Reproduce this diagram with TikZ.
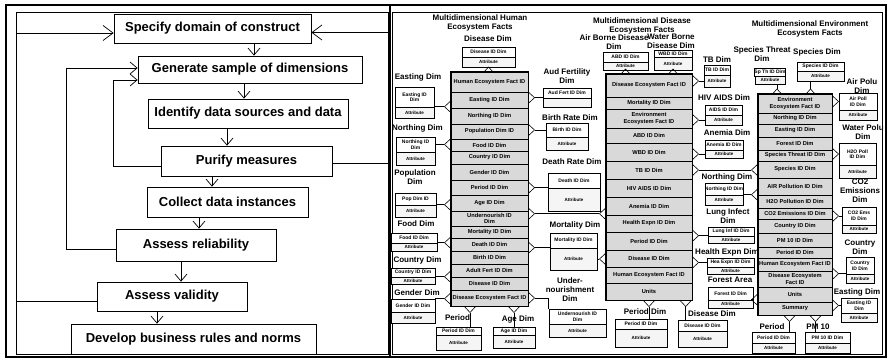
\documentclass[tikz,border=0pt]{standalone}
\usepackage{fontspec}
\setmainfont{Liberation Sans}
\usetikzlibrary{arrows.meta,positioning}

\tikzset{
  flowtip/.tip={Straight Barb[length=7pt,width=12pt]},
  backtip/.tip={Straight Barb[length=10pt,width=15pt]},
  crow/.tip={Straight Barb[reversed,length=6pt,width=11pt]},
  smallcrow/.tip={Straight Barb[reversed,length=4.5pt,width=8pt]},
}

% dimension table: name, left, top, right, divide, bottom, key text, attribute text
\newcommand{\dimtab}[8]{%
  \node[dimkey, minimum width={(#4-#2)*1pt}, minimum height={(#5-#3)*1pt}]
    (#1) at ({(#2+#4)/2},{(#3+#5)/2}) {#7};
  \node[dimattr, minimum width={(#4-#2)*1pt}, minimum height={(#6-#5)*1pt}]
    (#1-a) at ({(#2+#4)/2},{(#5+#6)/2}) {#8};
}

\begin{document}
\begin{tikzpicture}[x=1pt, y=-1pt,
  flowbox/.style={draw, line width=0.8pt, inner sep=0pt, font=\fontsize{13}{15}\selectfont\bfseries},
  flow/.style={line width=0.7pt, -flowtip},
  factrow/.style={draw, line width=0.5pt, fill=gray!30, inner sep=0pt, align=center, font=\fontsize{5.7}{6.1}\selectfont\bfseries},
  dimkey/.style={draw, line width=0.6pt, fill=white, inner sep=0pt, align=center, font=\fontsize{5}{5.6}\selectfont\bfseries},
  dimattr/.style={draw, line width=0.6pt, fill=gray!8, inner sep=0pt, font=\fontsize{4.5}{5}\selectfont\bfseries},
  dimtitle/.style={inner sep=0pt, align=center, font=\fontsize{8}{9}\selectfont\bfseries},
  link/.style={line width=0.6pt}]
\useasboundingbox (0,0) rectangle (889,360);

% frames
\draw[line width=2pt] (6,5) rectangle (886,357);
\draw[line width=0.6pt] (16,12) rectangle (388,354);
\draw[line width=0.6pt] (392,12) rectangle (882,354);
\draw[line width=2pt] (390,5) -- (390,357);

% scale development steps
\node[flowbox, minimum width=197pt, minimum height=29pt] (spec) at (212.5,28.5) {Specify domain of construct};
\node[flowbox, minimum width=224pt, minimum height=27pt] (gen) at (250,69.5) {Generate sample of dimensions};
\node[flowbox, minimum width=200pt, minimum height=29pt] (ident) at (248,113.5) {Identify data sources and data};
\node[flowbox, minimum width=171pt, minimum height=30pt] (purify) at (246.5,161) {Purify measures};
\node[flowbox, minimum width=161pt, minimum height=30pt] (collect) at (227.5,202) {Collect data instances};
\node[flowbox, minimum width=160pt, minimum height=32pt] (reliab) at (196,245) {Assess reliability};
\node[flowbox, minimum width=150pt, minimum height=29pt] (valid) at (172,296.5) {Assess validity};
\node[flowbox, minimum width=245pt, minimum height=30pt] (develop) at (193.5,339) {Develop business rules and norms};

\foreach \a/\b/\s in {spec/gen/4, gen/ident/-4, ident/purify/-19.5, purify/collect/-15.5,
                      collect/reliab/3, reliab/valid/9, valid/develop/-36.5} {
  \path ([xshift=\s pt]\b.north) coordinate (dn);
  \draw[flow] (dn |- \a.south) -- (dn);
}

% feedback loops
\coordinate (frameL) at (16,0);
\coordinate (frameR) at (388,0);
\coordinate (loopA) at (66,0);
\coordinate (loopB) at (113,0);
\coordinate (inL) at ([yshift=-4.5pt]spec.west);
\coordinate (inR) at ([yshift=-4pt]spec.east);
\coordinate (gin1) at ([yshift=1.5pt]gen.west);
\coordinate (gin2) at ([yshift=-10.5pt]gen.west);
\draw[line width=0.7pt, -backtip] ([yshift=-5pt]valid.west) -| (frameL |- inL) -- (inL);
\draw[line width=0.7pt, -backtip] ([yshift=-2pt]purify.east) -| (frameR |- inR) -- (inR);
\draw[flow] ([yshift=-4pt]reliab.west) -| (loopA |- gin1) -- (gin1);
\draw[flow] ([yshift=-5pt]purify.west) -| (loopB |- gin2) -- (gin2);

% fact tables
\foreach \t/\a/\b [count=\i] in {Human Ecosystem Fact ID/72/92, Easting ID Dim/92/108,
    Northing ID Dim/108/124, Population Dim ID/124/139, Food ID Dim/139/151,
    Country ID Dim/151/164, Gender ID Dim/164/180, Period ID Dim/180/195,
    Age ID Dim/195/211, Undernourish ID\\Dim/211/226, Mortality ID Dim/226/238,
    Death ID Dim/238/251, Birth ID Dim/251/264, Adult Fert ID Dim/264/277,
    Disease ID Dim/277/290, Disease Ecosystem Fact ID/290/306}
  \node[factrow, minimum width=77pt, minimum height={(\b-\a)*1pt}] (hf\i) at (489.5,{(\a+\b)/2}) {\t};
\draw[line width=0.9pt] (hf1.north west) rectangle (hf16.south east);

\foreach \t/\a/\b [count=\i] in {Disease Ecosystem Fact ID/74/97, Mortality ID Dim/97/109,
    Environment\\Ecosystem Fact ID/109/128, ABD ID Dim/128/143, WBD ID Dim/143/161,
    TB ID Dim/161/179, HIV AIDS ID Dim/179/197, Anemia ID Dim/197/215,
    Health Expn ID Dim/215/232, Period ID Dim/232/250, Disease ID Dim/250/267,
    Human Ecosystem Fact ID/267/283, Units/283/300}
  \node[factrow, minimum width=86pt, minimum height={(\b-\a)*1pt}] (df\i) at (649,{(\a+\b)/2}) {\t};
\draw[line width=0.9pt] (df1.north west) rectangle (df13.south east);

\foreach \t/\a/\b [count=\i] in {Environment\\Ecosystem Fact ID/94/113, Northing ID Dim/113/124,
    Easting ID Dim/124/137, Forest ID Dim/137/150, Species Threat ID Dim/150/161,
    Species ID Dim/161/178, AIR Pollution ID Dim/178/195, H2O Pollution ID Dim/195/208,
    CO2 Emissions ID Dim/208/219, Country ID Dim/219/233, PM 10 ID Dim/233/247,
    Period ID Dim/247/258, Human Ecosystem Fact ID/258/271, Disease Ecosystem\\Fact ID/271/287,
    Units/287/302, Summary/302/315}
  \node[factrow, minimum width=74pt, minimum height={(\b-\a)*1pt}] (ef\i) at (795,{(\a+\b)/2}) {\t};
\draw[line width=0.9pt] (ef1.north west) rectangle (ef16.south east);

% titles
\node[dimtitle] (ttl-h) at (480,22.5) {Multidimensional Human\\Ecosystem Facts};
\node[dimtitle] (ttl-d) at (642,25.5) {Multidimensional Disease\\Ecosystem Facts};
\node[dimtitle] (ttl-e) at (810,28.5) {Multidimensional Environment\\Ecosystem Facts};

\node[dimtitle] (l-hdis) at (488,39) {Disease Dim};
\node[dimtitle] (l-heast) at (418,77) {Easting Dim};
\node[dimtitle] (l-hnorth) at (417.5,128) {Northing Dim};
\node[dimtitle] (l-hpop) at (415,177.5) {Population\\Dim};
\node[dimtitle] (l-hfood) at (416,224) {Food Dim};
\node[dimtitle] (l-hcty) at (417.5,260) {Country Dim};
\node[dimtitle] (l-hgen) at (417,293) {Gender Dim};
\node[dimtitle] (l-hper) at (457.5,318) {Period};
\node[dimtitle] (l-hage) at (518,319) {Age Dim};
\node[dimtitle] (l-haud) at (567,76) {Aud Fertility\\Dim};
\node[dimtitle] (l-hbirth) at (570,118) {Birth Rate Dim};
\node[dimtitle] (l-hdeath) at (572,162) {Death Rate Dim};
\node[dimtitle] (l-hmort) at (575,225) {Mortality Dim};
\node[dimtitle] (l-hund) at (570,290) {Under-\\nourishment\\Dim};

\node[dimtitle] (l-dabd) at (614,42) {Air Borne Disease\\Dim};
\node[dimtitle] (l-dwbd) at (671,41) {Water Borne\\Disease Dim};
\node[dimtitle] (l-dtb) at (717,60) {TB Dim};
\node[dimtitle] (l-dhiv) at (724,98) {HIV AIDS Dim};
\node[dimtitle] (l-dane) at (727,133) {Anemia Dim};
\node[dimtitle] (l-dnor) at (727,177) {Northing Dim};
\node[dimtitle] (l-dlung) at (728,216.5) {Lung Infect\\Dim};
\node[dimtitle] (l-dhea) at (727,252) {Health Expn Dim};
\node[dimtitle] (l-dfor) at (730,280) {Forest Area};
\node[dimtitle] (l-dper) at (645,312) {Period Dim};
\node[dimtitle] (l-ddis) at (712,314) {Disease Dim};

\node[dimtitle] (l-esp) at (762,54.5) {Species Threat\\Dim};
\node[dimtitle] (l-espe) at (817,52) {Species Dim};
\node[dimtitle] (l-eair) at (862,86) {Air Polu\\Dim};
\node[dimtitle] (l-eh2o) at (863,132) {Water Polu\\Dim};
\node[dimtitle] (l-eco2) at (860,191) {CO2\\Emissions\\Dim};
\node[dimtitle] (l-ecty) at (860,247.5) {Country\\Dim};
\node[dimtitle] (l-eeast) at (857,292) {Easting Dim};
\node[dimtitle] (l-eper) at (772,327) {Period};
\node[dimtitle] (l-epm) at (818,327) {PM 10};

% dimension tables
\dimtab{hdis}{462}{47}{515}{57}{67}{Disease ID Dim}{Attribute}
\dimtab{heast}{395}{87}{434}{107}{118}{Easting ID\\Dim}{Attribute}
\dimtab{hnorth}{396}{137}{435}{152}{165}{Northing ID\\Dim}{Attribute}
\dimtab{hpop}{395}{193}{436}{205}{217}{Pop Dim ID}{Attribute}
\dimtab{hfood}{391}{233}{437}{243}{251}{Food ID Dim}{Attribute}
\dimtab{hcty}{391}{268}{435}{277}{284}{Country ID Dim}{Attribute}
\dimtab{hgen}{391}{299}{435}{312}{323}{Gender ID Dim}{Attribute}
\dimtab{hper}{436}{327}{481}{335}{350}{Period ID Dim}{Attribute}
\dimtab{hage}{493}{327}{535}{335}{348}{Age ID Dim}{Attribute}
\dimtab{haud}{543}{88}{591}{98}{107}{Aud Fert ID Dim}{}
\dimtab{hbirth}{546}{123}{588}{137}{150}{Birth ID Dim}{Attribute}
\dimtab{hdeath}{548}{173}{600}{188}{211}{Death ID Dim}{Attribute}
\dimtab{hmort}{550}{233}{597}{248}{270}{Mortality ID Dim}{Attribute}
\dimtab{hund}{549}{309}{606}{324}{337}{Undernourish ID\\Dim}{Attribute}

\dimtab{dabd}{603}{52}{648}{62}{70}{ABD ID Dim}{Attribute}
\dimtab{dwbd}{654}{50}{692}{57}{70}{WBD ID Dim}{Attribute}
\dimtab{dtb}{704}{65}{730}{75}{87}{TB ID Dim}{Attribute}
\dimtab{dhiv}{705}{105}{742}{115}{125}{AIDS ID Dim}{Attribute}
\dimtab{dane}{705}{140}{743}{150}{158}{Anemia ID Dim}{Attribute}
\dimtab{dnor}{705}{183}{743}{195}{205}{Northing ID Dim}{Attribute}
\dimtab{dlung}{708}{227}{754}{236}{243}{Lung Inf ID Dim}{Attribute}
\dimtab{dhea}{707}{258}{754}{267}{274}{Hea Expn ID Dim}{Attribute}
\dimtab{dfor}{708}{287}{753}{300}{308}{Forest ID Dim}{Attribute}
\dimtab{dper}{615}{319}{667}{329}{347}{Period ID Dim}{Attribute}
\dimtab{ddis}{678}{320}{727}{331}{347}{Disease ID Dim}{Attribute}

\dimtab{esp}{755}{68}{785}{76}{84}{Sp Th ID Dim}{Attribute}
\dimtab{espe}{797}{62}{844}{71}{81}{Species ID Dim}{Attribute}
\dimtab{eair}{839}{93}{877}{110}{120}{Air Poll\\ID Dim}{Attribute}
\dimtab{eh2o}{839}{143}{876}{165}{178}{H2O Poll\\ID Dim}{Attribute}
\dimtab{eco2}{842}{207}{876}{225}{233}{CO2 Ems\\ID Dim}{Attribute}
\dimtab{ecty}{846}{257}{874}{274}{283}{Country\\ID Dim}{Attribute}
\dimtab{eeast}{841}{298}{877}{313}{322}{Easting ID\\Dim}{Attribute}
\dimtab{eper}{752}{332}{795}{343}{353}{Period ID Dim}{Attribute}
\dimtab{epm}{805}{332}{850}{343}{353}{PM 10 ID Dim}{Attribute}

% human fact links
\draw[link,-smallcrow] (hdis-a.south) -- (hdis-a.south |- hf1.north);
\draw[link,-crow] (heast-a.north east) -- (heast-a.north east -| hf1.west);
\draw[link,-crow] (hnorth.east) -- (hnorth.east -| hf1.west);
\draw[link,-crow] (hpop-a.north east) -- (hpop-a.north east -| hf1.west);
\draw[link,-crow] (hfood-a.north east) -- (hfood-a.north east -| hf1.west);
\draw[link,-crow] (hcty-a.north east) -- (hcty-a.north east -| hf1.west);
\draw[link,-crow] (hgen.north east) -- (hgen.north east -| hf1.west);
\coordinate (chper) at ([xshift=11.5pt]hper.north);
\draw[link,-crow] (chper) -- (chper |- hf16.south);
\draw[link,-crow] (hage.north) -- (hage.north |- hf16.south);
\draw[link,crow-] (haud-a.north west -| hf1.east) -- (haud-a.north west);
\draw[link,crow-] (hbirth.west -| hf1.east) -- (hbirth.west);
\draw[link,crow-] (hdeath-a.north west -| hf1.east) -- (hdeath-a.north west);
\draw[link,crow-] (hmort-a.north west -| hf1.east) -- (hmort-a.north west);
\draw[link,crow-] (hf16.east) -| (hund.north west);
\coordinate (chd) at ([yshift=-3pt]hf10.north east);
\draw[link,crow-crow] (chd) -- (chd -| df1.west);
\draw[link,-crow] (hmort-a.east) -- (hmort-a.east -| df1.west);

% disease fact links
\draw[link,-smallcrow] (dabd-a.south) -- (dabd-a.south |- df1.north);
\draw[link,-smallcrow] (dwbd-a.south) -- (dwbd-a.south |- df1.north);
\draw[link,crow-] (dtb-a.west -| df1.east) -- (dtb-a.west);
\draw[link,crow-] (dhiv-a.west -| df1.east) -- (dhiv-a.west);
\draw[link,crow-] (dane-a.west -| df1.east) -- (dane-a.west);
\draw[link,crow-crow] (df6.east) -- (df6.east -| ef1.west);
\draw[link,-crow] (dnor-a.north east) -- (dnor-a.north east -| ef1.west);
\draw[link,crow-] (dlung-a.north west -| df1.east) -- (dlung-a.north west);
\draw[link,crow-] (dhea.west -| df1.east) -- (dhea.west);
\draw[link,-crow] (dfor-a.north east) -- (dfor-a.north east -| ef1.west);
\draw[link,crow-] (df13.south) -- (df13.south |- dper.north);
\coordinate (cddis) at ([xshift=8pt]ddis.north west);
\draw[link,-crow] (cddis) -- (cddis |- df13.south);

% environment fact links
\coordinate (cesp) at ([xshift=7pt]esp-a.south);
\draw[link,-smallcrow] (cesp) -- (cesp |- ef1.north);
\coordinate (cespe) at ([xshift=-10pt]espe-a.south);
\draw[link,-smallcrow] (cespe) -- (cespe |- ef1.north);
\draw[link,crow-] (eair.west -| ef1.east) -- (eair.west);
\draw[link,crow-] (eh2o.west -| ef1.east) -- (eh2o.west);
\draw[link,crow-] (eco2.west -| ef1.east) -- (eco2.west);
\draw[link,crow-] (ecty-a.north west -| ef1.east) -- (ecty-a.north west);
\draw[link,crow-] (eeast.west -| ef1.east) -- (eeast.west);
\coordinate (ceper) at ([xshift=16pt]eper.north);
\draw[link,-crow] (ceper) -- (ceper |- ef16.south);
\coordinate (cepm) at ([xshift=-12pt]epm.north);
\draw[link,-crow] (cepm) -- (cepm |- ef16.south);
\end{tikzpicture}
\end{document}
